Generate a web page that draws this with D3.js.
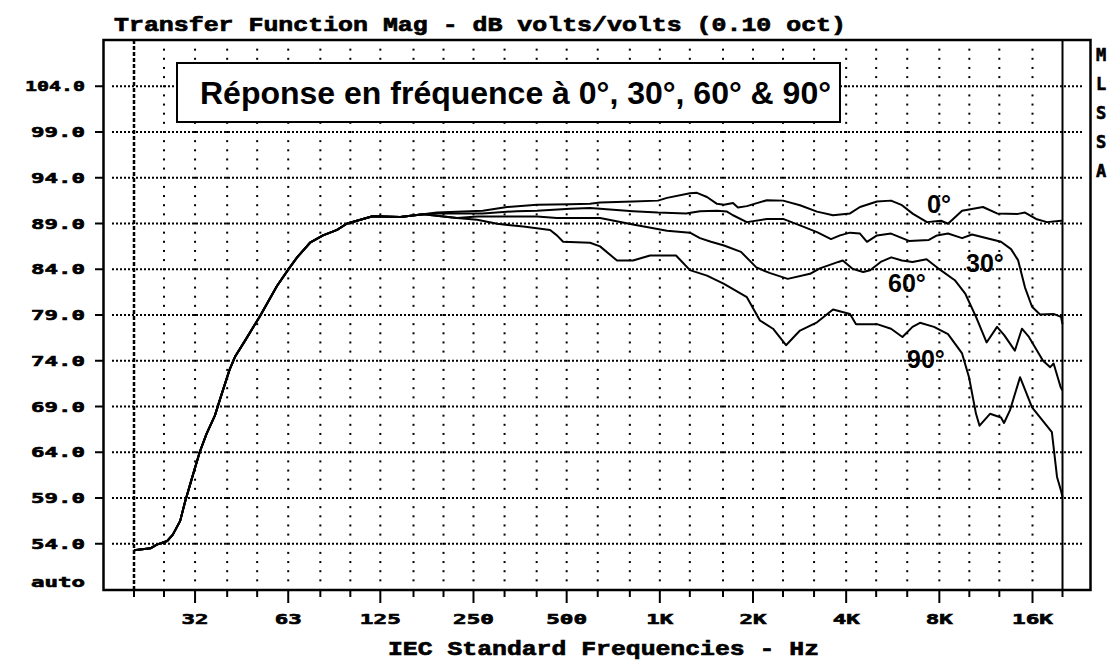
<!DOCTYPE html>
<html><head><meta charset="utf-8">
<script src="https://cdn.jsdelivr.net/npm/d3@7/dist/d3.min.js"></script>
<style>body{margin:0;background:#fff}svg{display:block}</style>
</head><body><svg id="c" width="1113" height="664"></svg>
<script>
// ---- data ----
const lowFreq = [20, 22.6, 23.7, 25.6, 26.7, 28.2, 29.2, 30.8, 32.6, 34.3, 36.5, 38.1, 40.7, 42.5, 45.7, 51.1, 58.0, 63.4, 67.3, 74.1, 81.6, 90.6, 97.6, 105, 118, 145, 172];
const lowDb   = [53.3, 53.5, 53.9, 54.3, 55.0, 56.5, 58.5, 61.2, 64.0, 66.0, 68.0, 70.0, 73.0, 74.5, 76.2, 78.9, 82.2, 84.1, 85.3, 86.9, 87.7, 88.3, 89.0, 89.3, 89.8, 89.7, 90.0];

const freq0 = [190.6, 268, 321, 401, 512, 595, 641, 819, 986, 1055, 1251, 1318, 1420, 1530, 1612, 1723, 1788, 1911, 2218, 2501, 2837, 3220, 3627, 4116, 4433, 5031, 5585, 6059, 6577, 7299, 8101, 8534, 9474, 11066, 12286, 14366, 15133, 16427, 17828, 19781, 20000];
const db0   = [90.2, 90.4, 90.8, 91.05, 91.1, 91.15, 91.3, 91.4, 91.5, 91.8, 92.3, 92.35, 91.9, 91.15, 91.05, 91.25, 90.75, 90.9, 91.55, 91.5, 91.0, 90.3, 89.9, 90.1, 90.8, 91.4, 91.5, 91.0, 90.05, 89.15, 89.3, 88.97, 90.4, 90.8, 90.1, 90.05, 90.2, 89.5, 89.15, 89.3, 89.3];

const freq30 = [190.6, 268, 345, 401, 513, 595, 641, 819, 986, 1215, 1348, 1530, 1648, 1723, 1911, 2218, 2501, 2837, 3220, 3573, 3821, 4116, 4433, 4670, 5031, 5585, 6383, 7400, 7863, 8534, 9474, 10202, 11662, 12657, 13637, 14366, 15133, 15945, 16923, 18777, 19781, 20000];
const db30   = [90.1, 90.1, 90.35, 90.4, 90.6, 90.7, 90.6, 90.35, 90.2, 90.1, 90.35, 90.4, 90.3, 89.9, 89.15, 89.5, 89.5, 88.8, 88.05, 87.3, 87.7, 88.0, 87.9, 87.0, 87.7, 87.9, 87.1, 87.2, 87.7, 87.9, 87.4, 87.8, 87.3, 87.0, 86.2, 85.0, 82.0, 79.9, 79.05, 79.1, 78.8, 78.0];

const freq60 = [221, 257, 401, 465, 595, 641, 819, 1055, 1251, 1348, 1463, 1612, 1829, 2050, 2260, 2590, 3057, 3290, 3774, 3900, 4193, 4538, 4780, 5171, 5596, 6056, 6552, 7275, 8079, 8977, 9713, 10510, 11370, 12290, 12960, 14030, 14790, 15580, 17306, 18250, 18720, 19730, 20000];
const db60   = [89.6, 89.77, 89.77, 89.6, 89.6, 89.6, 88.9, 88.2, 88.0, 87.4, 87.0, 86.6, 85.9, 84.2, 83.6, 82.95, 83.5, 84.1, 84.8, 84.95, 84.05, 83.7, 83.9, 84.8, 85.3, 84.95, 84.8, 85.1, 83.9, 82.8, 81.3, 78.8, 76.0, 77.7, 76.8, 75.1, 77.5, 76.6, 74.0, 73.3, 73.7, 71.1, 70.75];

const freq90 = [221, 257, 298, 362, 442, 465, 487, 595, 641, 727, 819, 930, 1128, 1251, 1420, 1612, 1911, 2106, 2321, 2557, 2837, 3220, 3627, 4116, 4304, 5031, 5585, 6080, 6552, 6928, 7689, 8534, 9474, 9976, 10510, 10790, 11662, 12657, 12944, 13536, 14583, 15945, 18480, 19202, 19781, 20000];
const db90   = [89.6, 89.4, 88.97, 88.67, 88.3, 87.7, 87.0, 86.9, 86.5, 84.95, 84.95, 85.5, 85.5, 83.9, 83.3, 82.4, 80.95, 78.4, 77.5, 75.7, 77.3, 78.2, 79.6, 79.1, 78.0, 78.0, 77.5, 76.6, 77.7, 78.15, 77.7, 76.9, 74.8, 72.2, 68.2, 66.9, 68.2, 67.8, 67.2, 68.6, 72.2, 68.9, 66.2, 61.3, 59.8, 59.1];

const seriesNames = ["0°", "30°", "60°", "90°"];
const thirdOctaves = [20, 25, 31.5, 40, 50, 63, 80, 100, 125, 160, 200, 250, 315, 400, 500, 630, 800, 1000, 1250, 1600, 2000, 2500, 3150, 4000, 5000, 6300, 8000, 10000, 12500, 16000, 20000];
const xLabelFreqs = [31.5, 63, 125, 250, 500, 1000, 2000, 4000, 8000, 16000];
const xLabelTexts = ["32", "63", "125", "250", "500", "1K", "2K", "4K", "8K", "16K"];
const yTicks = [54, 59, 64, 69, 74, 79, 84, 89, 94, 99, 104];
const yTickTexts = ["54.0", "59.0", "64.0", "69.0", "74.0", "79.0", "84.0", "89.0", "94.0", "99.0", "104.0"];
const yBottomText = "auto";
const titleText = "Transfer Function Mag - dB volts/volts (0.10 oct)";
const xTitleText = "IEC Standard Frequencies - Hz";
const legendText = "Réponse en fréquence à 0°, 30°, 60° & 90°";
const sideLetters = ["M", "L", "S", "S", "A"];

// ---- drawing ----
const svg = d3.select("#c");
const x = d3.scaleLog().domain([20, 20000]).range([134, 1062.5]);
const y = d3.scaleLinear().domain([49, 109]).range([589.5, 40.5]);
const L = 103.5, R = 1090.5, T = 40, B = 590;
const pix = "'DejaVu Sans Mono', monospace";
const slab = "'Liberation Mono', 'Courier New', monospace";

svg.append("rect").attr("width", 1113).attr("height", 664).attr("fill", "#fff");

// vertical dotted grid (dots every dB)
const gDots = svg.append("g").attr("fill", "#000");
const dotVals = d3.range(50, 109);
thirdOctaves.slice(1, -1).forEach(f => {
  gDots.selectAll(null).data(dotVals).enter().append("rect")
    .attr("x", x(f) - 1).attr("y", d => y(d) - 1).attr("width", 2).attr("height", 2);
});
// horizontal dotted grid
svg.append("g").selectAll("line").data(yTicks).enter().append("line")
  .attr("x1", 112).attr("x2", 1084).attr("y1", d => y(d)).attr("y2", d => y(d))
  .attr("stroke", "#000").attr("stroke-width", 2).attr("stroke-dasharray", "2,2");

// 20 Hz dashed line and 20 kHz solid line
svg.append("line").attr("x1", x(20)).attr("x2", x(20)).attr("y1", T).attr("y2", B)
  .attr("stroke", "#000").attr("stroke-width", 2.5).attr("stroke-dasharray", "4,2");
svg.append("line").attr("x1", x(20000)).attr("x2", x(20000)).attr("y1", T).attr("y2", B)
  .attr("stroke", "#000").attr("stroke-width", 2);

// frame
svg.append("rect").attr("x", L).attr("y", T).attr("width", R - L).attr("height", B - T)
  .attr("fill", "none").attr("stroke", "#000").attr("stroke-width", 2.5);

// y ticks & labels
svg.append("g").selectAll("line").data(yTicks).enter().append("line")
  .attr("x1", 95).attr("x2", L).attr("y1", d => y(d)).attr("y2", d => y(d))
  .attr("stroke", "#000").attr("stroke-width", 2);
const pixStyle = sel => sel.attr("font-family", pix).attr("font-weight", "bold").attr("font-size", 14)
  .attr("stroke", "#000").attr("stroke-width", 0.6).attr("lengthAdjust", "spacingAndGlyphs");
svg.append("g").selectAll("text").data(yTicks).enter().append("text")
  .attr("x", 85).attr("y", d => y(d) + 5).attr("text-anchor", "end")
  .call(pixStyle)
  .attr("textLength", (d, i) => yTickTexts[i].length === 5 ? 60 : 54)
  .text((d, i) => yTickTexts[i]);
svg.append("text").attr("x", 85).attr("y", y(49) - 3).attr("text-anchor", "end")
  .call(pixStyle).attr("textLength", 54).text(yBottomText);

// x ticks & labels
svg.append("g").selectAll("line").data(thirdOctaves).enter().append("line")
  .attr("x1", d => x(d)).attr("x2", d => x(d)).attr("y1", B)
  .attr("y2", d => xLabelFreqs.includes(d) ? B + 13 : B + 7)
  .attr("stroke", "#000").attr("stroke-width", 2);
svg.append("g").selectAll("text").data(xLabelFreqs).enter().append("text")
  .attr("x", d => x(d)).attr("y", 624).attr("text-anchor", "middle")
  .call(pixStyle)
  .attr("textLength", (d, i) => xLabelTexts[i].length * 14 - 1)
  .text((d, i) => xLabelTexts[i]);

// titles
svg.append("text").attr("x", 114).attr("y", 31).attr("font-family", slab).attr("font-weight", "bold")
  .attr("stroke", "#000").attr("stroke-width", 0.7)
  .attr("font-size", 21).attr("textLength", 732).attr("lengthAdjust", "spacingAndGlyphs").text(titleText);
svg.append("text").attr("x", 388).attr("y", 655).attr("font-family", slab).attr("font-weight", "bold")
  .attr("stroke", "#000").attr("stroke-width", 0.7)
  .attr("font-size", 21).attr("textLength", 431).attr("lengthAdjust", "spacingAndGlyphs").text(xTitleText);

// side letters
svg.append("g").selectAll("text").data(sideLetters).enter().append("text")
  .attr("x", 1096).attr("y", (d, i) => 61 + i * 29)
  .attr("font-family", pix).attr("font-weight", "bold").attr("font-size", 17)
  .attr("stroke", "#000").attr("stroke-width", 0.6).text(d => d);

// curves
const line = d3.line().x(d => x(d[0])).y(d => y(d[1]));
const mk = (f, v) => lowFreq.map((q, i) => [q, lowDb[i]]).concat(f.map((q, i) => [q, v[i]]));
const curves = [mk(freq90, db90), mk(freq60, db60), mk(freq30, db30), mk(freq0, db0)];
svg.append("g").selectAll("path").data(curves).enter().append("path")
  .attr("d", line).attr("fill", "none").attr("stroke", "#000").attr("stroke-width", 2)
  .attr("stroke-linejoin", "round");

// legend box
svg.append("rect").attr("x", 177).attr("y", 63).attr("width", 663).attr("height", 59)
  .attr("fill", "#fff").attr("stroke", "#000").attr("stroke-width", 2);
svg.append("text").attr("x", 200).attr("y", 104).attr("font-family", "'Liberation Sans', Arial, sans-serif")
  .attr("font-weight", "bold").attr("font-size", 32).text(legendText);

// curve labels
const labelPos = [[927, 213], [966, 271.5], [888, 291.5], [907, 368]];
svg.append("g").selectAll("text").data(seriesNames).enter().append("text")
  .attr("x", (d, i) => labelPos[i][0]).attr("y", (d, i) => labelPos[i][1])
  .attr("font-family", "'Liberation Sans', Arial, sans-serif").attr("font-weight", "bold")
  .attr("font-size", 25).text(d => d);
</script></body></html>
